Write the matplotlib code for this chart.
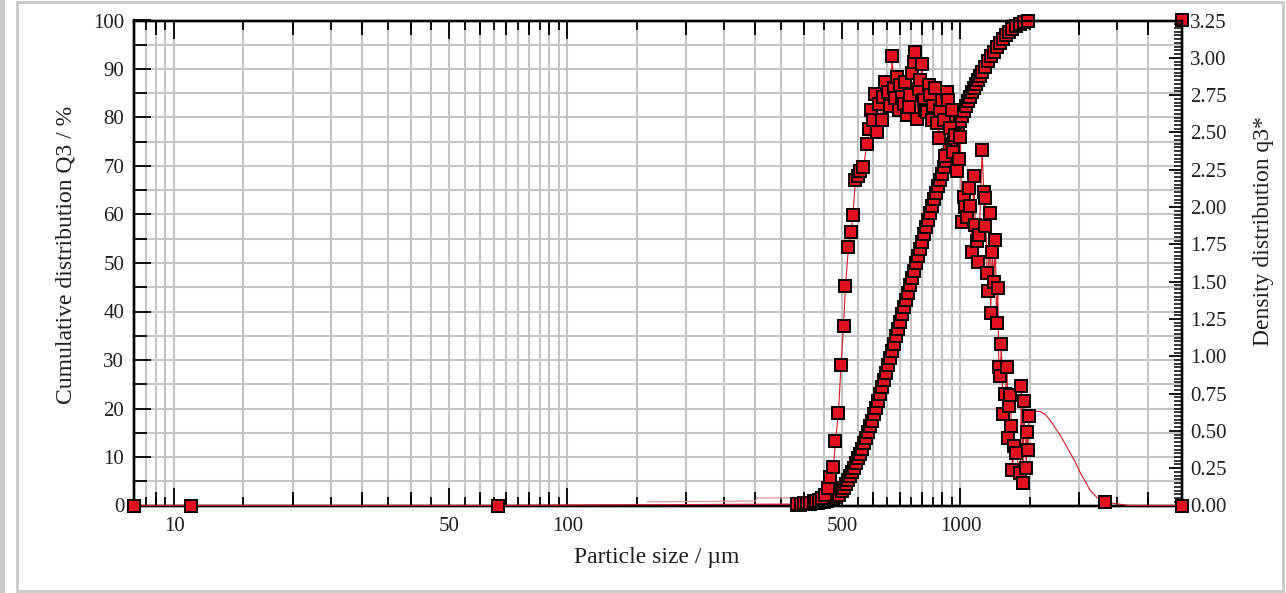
import numpy as np
import matplotlib
matplotlib.use("Agg")
import matplotlib.pyplot as plt
from matplotlib.ticker import FixedLocator, NullLocator, FixedFormatter, MultipleLocator, NullFormatter
from matplotlib.patches import Rectangle

plt.rcParams['font.family'] = ['Liberation Serif', 'DejaVu Serif']

# ---------------- data ----------------
# cumulative distribution Q3 (%) vs particle size (um)
cum_size = [7.9, 11.0, 66.5,
            384.9, 391.7, 398.7, 405.8, 413.0, 420.3, 427.7, 435.3, 443.0, 450.8,
            458.8, 467.0, 475.3, 483.6, 492.2, 501.0, 506.9, 512.8, 518.8, 524.9,
            531.1, 537.4, 543.7, 550.1, 556.6, 563.2, 569.8, 576.5, 583.3, 590.1,
            597.1, 604.1, 611.2, 618.4, 625.8, 633.0, 640.5, 648.1, 655.7, 663.4,
            671.3, 679.1, 687.1, 695.3, 703.4, 711.7, 720.2, 728.6, 737.2, 745.8,
            754.6, 763.5, 772.6, 781.5, 790.7, 800.0, 809.5, 819.0, 828.7, 838.4,
            848.2, 858.2, 868.4, 878.6, 888.9, 899.5, 909.9, 920.7, 931.6, 942.5,
            953.6, 964.9, 976.1, 987.6, 999.3, 1011, 1023, 1035, 1047, 1060,
            1072, 1085, 1098, 1110, 1123, 1137, 1157, 1177, 1198, 1219,
            1240, 1263, 1285, 1308, 1331, 1355, 1387, 1420, 1454, 1488,
            3660]
cum_q3 = [0.0, 0.0, 0.0,
          0.2, 0.2, 0.3, 0.3, 0.4, 0.5, 0.5, 0.6, 0.7, 0.8,
          0.9, 1.1, 1.3, 1.7, 2.2, 2.9, 3.6, 4.4, 5.2, 6.0,
          6.9, 7.8, 8.7, 9.7, 10.7, 11.7, 12.8, 13.9, 15.1, 16.3,
          17.5, 18.8, 20.1, 21.5, 22.9, 24.4, 25.9, 27.4, 28.9, 30.4,
          31.9, 33.4, 34.9, 36.4, 37.9, 39.4, 40.9, 42.4, 43.9, 45.4,
          46.9, 48.4, 49.9, 51.4, 52.9, 54.4, 55.9, 57.4, 58.9, 60.3,
          61.7, 63.1, 64.5, 65.8, 67.1, 68.4, 69.7, 71.0, 72.2, 73.4,
          74.6, 75.8, 77.0, 78.1, 79.2, 80.3, 81.3, 82.3, 83.3, 84.3,
          85.2, 86.1, 87.0, 87.8, 88.6, 89.4, 90.5, 91.6, 92.6, 93.6,
          94.5, 95.4, 96.2, 97.0, 97.7, 98.3, 98.9, 99.3, 99.6, 99.8,
          100.0]

# density distribution q3* (marked points)
dens_size = [7.9, 11.0, 66.5,
             384.9, 394.0, 401.0, 408.1, 415.4, 422.8, 430.2, 437.8, 445.6, 453.5,
             461.5, 467.0, 475.3, 480.8, 489.3, 496.6, 504.0, 509.8, 518.8, 526.4,
             532.6, 540.5, 548.5, 556.6, 566.5, 578.2, 585.0, 591.8, 600.6, 607.7,
             614.9, 622.1, 631.3, 637.0, 644.3, 655.7, 663.4, 670.1, 677.2, 683.1,
             690.0, 697.3, 703.4, 711.7, 717.2, 724.3, 730.7, 738.5, 745.8, 753.3,
             761.3, 767.9, 775.6, 783.8, 790.7, 798.6, 807.1, 814.3, 822.4, 830.2,
             838.4, 845.8, 853.3, 863.3, 872.0, 880.2, 888.9, 896.8, 906.3, 912.7,
             924.7, 931.6, 939.8, 952.1, 958.3, 968.0, 980.6, 991.0, 999.3, 1009,
             1019, 1026, 1039, 1049, 1060, 1069, 1080, 1091, 1101, 1107,
             1117, 1135, 1146, 1152, 1157, 1169, 1176, 1187, 1193, 1205,
             1216, 1227, 1235, 1244, 1252, 1263, 1270, 1285, 1301, 1314,
             1320, 1326, 1339, 1347, 1355, 1371, 1383, 1420, 1428, 1443,
             1448, 1471, 1475, 1485, 1490,
             2335, 3660]
dens_q3 = [0.0, 0.0, 0.0,
           0.01, 0.01, 0.02, 0.02, 0.02, 0.03, 0.03, 0.04, 0.05, 0.07,
           0.12, 0.19, 0.26, 0.43, 0.62, 0.94, 1.20, 1.47, 1.73, 1.83,
           1.95, 2.18, 2.21, 2.24, 2.27, 2.42, 2.52, 2.65, 2.58, 2.76,
           2.50, 2.69, 2.58, 2.74, 2.84, 2.77, 2.68, 3.01, 2.80, 2.73,
           2.87, 2.65, 2.82, 2.74, 2.69, 2.84, 2.62, 2.67, 2.75, 2.90,
           2.97, 3.04, 2.59, 2.79, 2.85, 2.96, 2.72, 2.65, 2.64, 2.82,
           2.75, 2.58, 2.68, 2.80, 2.56, 2.46, 2.65, 2.72, 2.58, 2.34,
           2.77, 2.72, 2.53, 2.65, 2.37, 2.48, 2.24, 2.32, 2.47, 1.90,
           2.07, 2.00, 1.93, 2.13, 2.01, 1.70, 2.21, 1.88, 1.77, 1.63,
           1.81, 2.38, 2.10, 1.87, 2.06, 1.56, 1.44, 1.96, 1.29, 1.70,
           1.50, 1.78, 1.22, 1.46, 0.93, 0.87, 1.08, 0.61, 0.75, 0.93,
           0.45, 0.67, 0.74, 0.53, 0.24, 0.40, 0.35, 0.22, 0.80, 0.15,
           0.70, 0.25, 0.49, 0.37, 0.60,
           0.025, 0.0]

# density line continuation without markers
tail_size = [1550, 1596, 1643, 1692, 1742, 1795, 1848, 1903, 1960, 2017,
             2078, 2139, 2230, 2440, 2550, 2680]
tail_q3 = [0.63, 0.63, 0.61, 0.57, 0.52, 0.47, 0.41, 0.35, 0.29, 0.22,
           0.16, 0.10, 0.05, 0.015, 0.008, 0.0]

# faint trace just above zero at small sizes
low_size = [160, 300, 305, 384.9]
low_q3 = [0.025, 0.03, 0.05, 0.05]

x_major = [10, 50, 100, 500, 1000]
x_major_labels = ['10', '50', '100', '500', '1000']
x_medium = [9, 20, 30, 40, 60, 70, 80, 90, 200, 300, 400, 600, 700, 800, 900, 2000, 3000]
x_short = [8.5, 9.5, 15, 25, 35, 45, 55, 65, 75, 85, 95,
           150, 250, 350, 450, 550, 650, 750, 850, 950, 1500, 2500]

XLIM = (7.9, 3660)

# ---------------- figure ----------------
W, H = 1286, 593
fig = plt.figure(figsize=(W / 100, H / 100), dpi=100)
fig.patch.set_facecolor('white')

# window-like frame
fig.patches.append(Rectangle((0, 0), 5 / W, 1, transform=fig.transFigure,
                             facecolor='#c9c9c9', edgecolor='none', zorder=0))
fig.patches.append(Rectangle((17 / W, 2 / H), (1283 - 17) / W, (591.5 - 2) / H,
                             transform=fig.transFigure, fill=False,
                             edgecolor='#c9c9c9', lw=2.0, zorder=0))

px = 72 / 100.0  # points per pixel
rect = [134 / W, 1 - 505.5 / H, (1182 - 134) / W, (505.5 - 20.5) / H]

ax = fig.add_axes(rect)
ax.set_xscale('log')
ax.set_xlim(*XLIM)
ax.set_ylim(0, 100)

ax.xaxis.set_major_locator(FixedLocator(x_major))
ax.xaxis.set_major_formatter(FixedFormatter(x_major_labels))
ax.xaxis.set_minor_locator(FixedLocator(sorted(x_medium + x_short)))
ax.xaxis.set_minor_formatter(NullFormatter())
ax.yaxis.set_major_locator(MultipleLocator(10))
ax.yaxis.set_minor_locator(MultipleLocator(5))

grid_c = '#c4c4c4'
ax.grid(True, which='both', color=grid_c, lw=1.5, zorder=0)
ax.set_axisbelow(True)

for s in ax.spines.values():
    s.set_linewidth(1.7)
    s.set_color('black')

TXT = '#1e1e1e'
ax.tick_params(axis='x', which='major', direction='in', length=18 * px, width=1.3,
               top=True, bottom=True, labelsize=15, pad=8, colors='black',
               labelcolor=TXT)
ax.tick_params(axis='x', which='minor', direction='in', length=9 * px, width=1.3,
               top=True, bottom=True)
ax.tick_params(axis='y', which='major', direction='in', length=17 * px, width=1.3,
               left=True, right=False, labelsize=15, pad=7, labelcolor=TXT)
ax.tick_params(axis='y', which='minor', direction='in', length=13 * px, width=1.3,
               left=True, right=False)

# medium-length x ticks on an overlay axes
axm = fig.add_axes(rect, facecolor='none')
axm.set_xscale('log')
axm.set_xlim(*XLIM)
axm.xaxis.set_major_locator(FixedLocator(x_medium))
axm.xaxis.set_major_formatter(NullFormatter())
axm.xaxis.set_minor_locator(NullLocator())
axm.set_yticks([])
for s in axm.spines.values():
    s.set_visible(False)
axm.tick_params(axis='x', which='major', direction='in', length=14 * px, width=1.3,
                top=True, bottom=True, labelbottom=False, labeltop=False)

red = '#e2101f'
line_red = '#d41a24'
MS, MEW = 8.0, 1.4

# cumulative (left axis)
ax.plot(cum_size, cum_q3, '-', color=line_red, lw=0.8, zorder=3, clip_on=False)
ax.plot(cum_size, cum_q3, 's', ls='none', mfc=red, mec='black', ms=MS, mew=MEW,
        zorder=4, clip_on=False)

# density (right axis)
ax2 = ax.twinx()
ax2.set_xlim(*XLIM)
ax2.set_ylim(0, 3.25)
ax2.yaxis.set_major_locator(MultipleLocator(0.25))
ax2.yaxis.set_minor_locator(MultipleLocator(0.025))
ax2.yaxis.set_major_formatter(matplotlib.ticker.FormatStrFormatter('%.2f'))
ax2.tick_params(axis='y', which='major', direction='in', length=13 * px, width=1.3,
                right=True, left=False, labelsize=15, pad=6, labelcolor=TXT)
ax2.tick_params(axis='y', which='minor', direction='in', length=8 * px, width=1.1,
                right=True, left=False)
for s in ax2.spines.values():
    s.set_linewidth(1.7)

line_x = np.array(dens_size + tail_size, dtype=float)
line_y = np.array(dens_q3 + tail_q3, dtype=float)
order = np.argsort(line_x, kind='stable')
ax2.plot(low_size, low_q3, '-', color='#d99a9a', lw=0.9, zorder=2, clip_on=False)
ax2.plot(line_x[order], line_y[order], '-', color=line_red, lw=0.8, zorder=3,
         clip_on=False)
ax2.plot(dens_size, dens_q3, 's', ls='none', mfc=red, mec='black', ms=MS, mew=MEW,
         zorder=4, clip_on=False)

# axis titles
fig.text(657 / W, 1 - 558 / H, 'Particle size / µm', ha='center', va='center',
         fontsize=17, color=TXT)
fig.text(66 / W, 1 - 255 / H, 'Cumulative distribution Q3 / %', ha='center',
         va='center', rotation=90, fontsize=17, color=TXT)
fig.text(1263 / W, 1 - 231 / H, 'Density distribution q3*', ha='center',
         va='center', rotation=90, fontsize=17, color=TXT)

fig.savefig('out.png', dpi=100, facecolor='white')
